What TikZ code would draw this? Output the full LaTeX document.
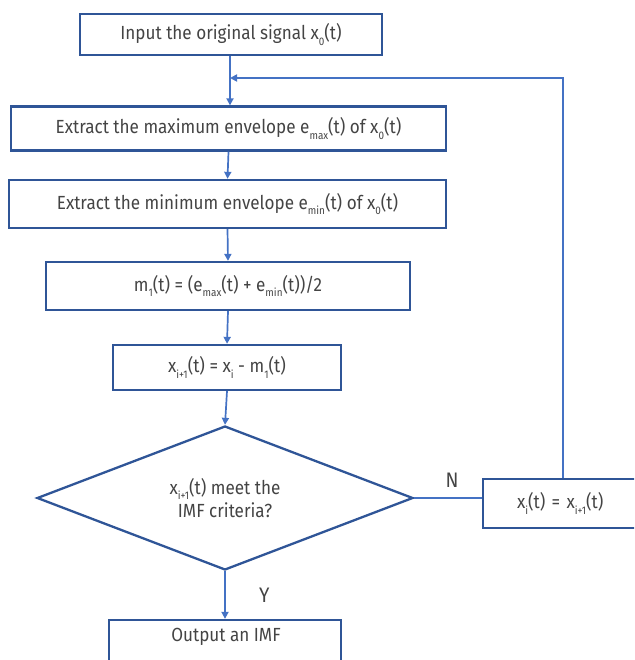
\documentclass[tikz,border=0pt]{standalone}
\usepackage{fontspec}
\setmainfont{Fira Sans}[FakeStretch=0.9]
\usepackage{xcolor}
\usetikzlibrary{shapes.geometric,arrows.meta}
\definecolor{boxblue}{HTML}{2F5597}
\definecolor{lineblue}{HTML}{4472C4}
\definecolor{txtgray}{HTML}{444444}
\newcommand{\lowsub}[1]{\raisebox{-0.55ex}{\fontsize{11}{11}\selectfont #1}}

\begin{document}
\begin{tikzpicture}[x=1pt,y=-1pt,
	stepbox/.style={
		draw=boxblue,
		line width=2.3pt,
		text=txtgray,
		minimum width=#1,
		minimum height=44pt,
		inner sep=0pt,
		font=\fontsize{19}{23}\selectfont
	},
	decide/.style={
		diamond,
		draw=boxblue,
		line width=2.3pt,
		text=txtgray,
		minimum width=376pt,
		minimum height=144pt,
		aspect=2.6,
		inner sep=0pt,
		align=center,
		font=\fontsize{19}{23}\selectfont
	},
	flow/.style={
		draw=lineblue,
		line width=1.7pt,
		-{Triangle[length=7pt,width=7pt]}
	},
	tag/.style={text=txtgray, font=\fontsize{21}{24}\selectfont}]

	\useasboundingbox (0,0) rectangle (634,660);
	\clip (0,0) rectangle (634,660);

	\node[stepbox=302pt, minimum height=41pt] (input) at (231,34.5) {Input the original signal x\lowsub{0}(t)};
	\node[stepbox=435pt] (emax) at (228.5,128.5) {Extract the maximum envelope e\lowsub{max}(t) of x\lowsub{0}(t)};
	\node[stepbox=437pt, minimum height=48pt] (emin) at (227.5,204) {Extract the minimum envelope e\lowsub{min}(t) of x\lowsub{0}(t)};
	\node[stepbox=364pt, minimum height=48pt] (mean) at (228,286) {m\lowsub{1}(t) = (e\lowsub{max}(t) + e\lowsub{min}(t))/2};
	\node[stepbox=228pt, minimum height=45pt] (sub) at (227,367.5) {x\lowsub{i+1}(t) = x\lowsub{i} - m\lowsub{1}(t)};
	\node[decide] (check) at (225,498) {x\lowsub{i+1}(t) meet the\\IMF criteria?};
	\node[stepbox=160pt, minimum height=49pt, text width=156pt, align=left] (update) at (563,503.5) {\hspace*{32pt}x\lowsub{i}(t) = x\lowsub{i+1}(t)};
	\node[stepbox=232pt, minimum height=44pt] (imf) at (225,642) {};
	\node[text=txtgray, font=\fontsize{19}{23}\selectfont] (imftext) at (226,637) {Output an IMF};

	\coordinate (join) at (230,78);
	\coordinate (corner) at (update.north |- join);

	% main path
	\draw[flow] (input.south -| join) -- (join |- emax.north);
	\draw[flow] (emax.south) -- (emin.north);
	\draw[flow] (emin.south) -- (mean.north);
	\draw[flow] (mean.south) -- (sub.north);
	\draw[flow] (sub.south) -- (check.north);
	\draw[flow] (check.south) -- (imf.north) node[tag, midway, right=30pt] {Y};

	% loop back
	\draw[draw=lineblue, line width=1.7pt] (check.east) -- (check.east -| update.west) node[tag, midway, above=6pt, xshift=4pt] {N};
	\draw[flow] (update.north) -- (corner) -- (join);
\end{tikzpicture}
\end{document}
